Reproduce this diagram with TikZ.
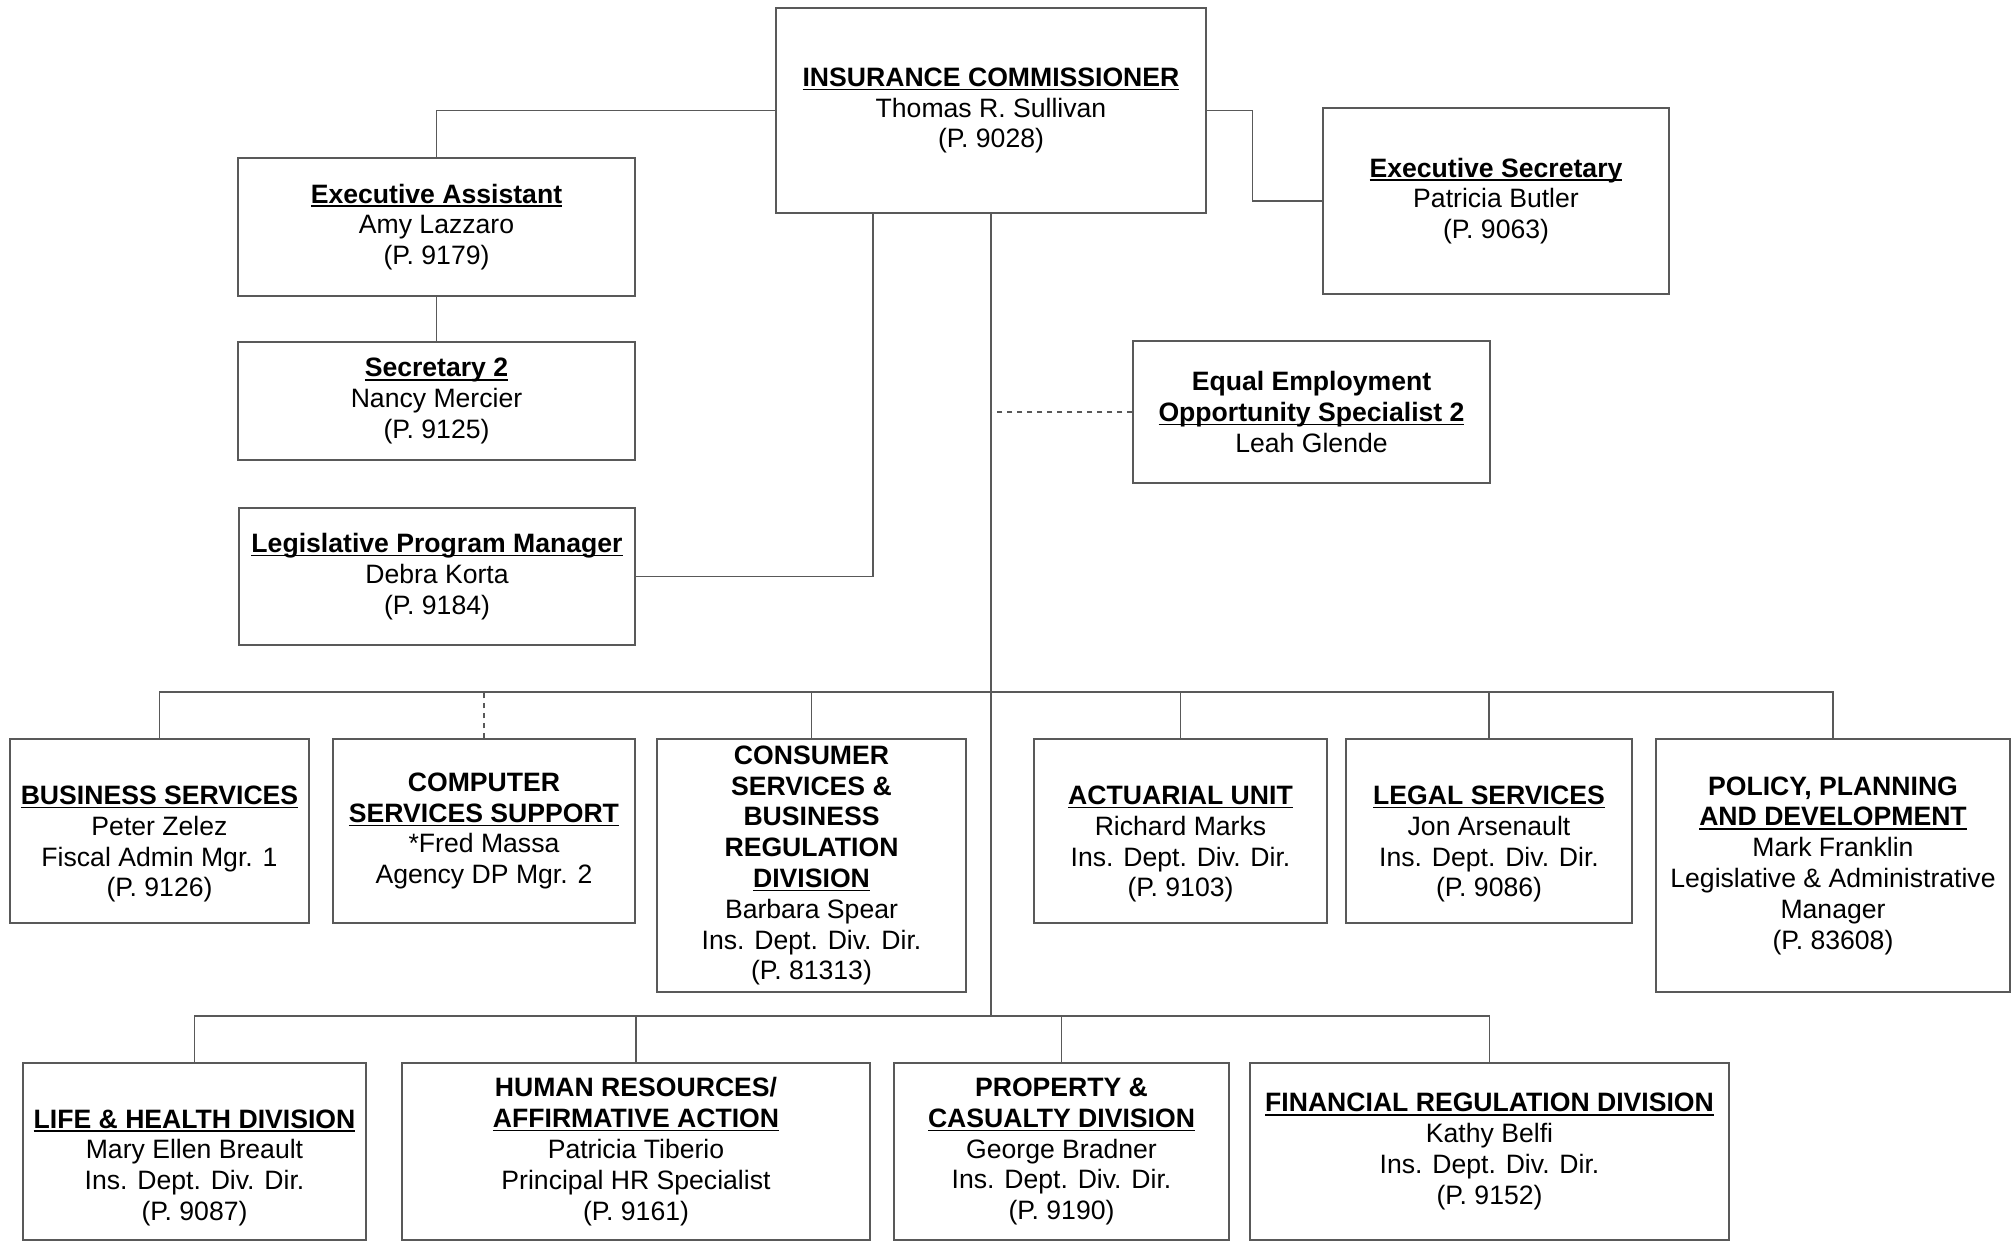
\documentclass[tikz,border=0pt]{standalone}
\usepackage{fontspec}
\setmainfont{Liberation Sans}
\usepackage{tikz}
\usetikzlibrary{calc}
\tikzset{
	% Two styles for the chart: boxes and connecting lines
	org box/.style={rectangle,draw=black!65,line width=0.6pt,inner sep=0pt,align=center},
	org line/.style={draw=black!65,line width=0.6pt}
}

\begin{document}
\begin{tikzpicture}[x=0.5pt,y=-0.5pt,font=\fontsize{13.3}{15.4}\selectfont]
			% macro for the underlined head of a box
			\newcommand{\boxhead}[1]{\textbf{\setbox0\hbox{#1}\rlap{\rule[-1.9pt]{\wd0}{0.7pt}}\box0}}
			% macro for a drop from a bus down to a box
			\newcommand{\dropline}[3][]{\draw[org line,#1](#2.north)--(#2.north|-#3);}
			\tikzstyle{dotted link}=[org line,dash pattern=on 2.5pt off 2.5pt]
			\useasboundingbox (0,0) rectangle (2016,1243);
			\clip (0,0) rectangle (2016,1243);

				% commissioner and staff
				\node(comm)[org box,minimum width=215pt,minimum height=102.5pt] at (991,110.5)
					{\boxhead{INSURANCE COMMISSIONER}\\Thomas R. Sullivan\\(P. 9028)};
				\node(ea)[org box,minimum width=198.5pt,minimum height=69pt] at (436.5,227)
					{\boxhead{Executive Assistant}\\Amy Lazzaro\\(P. 9179)};
				\node(sec)[org box,minimum width=198.5pt,minimum height=59pt] at (436.5,401)
					{\boxhead{Secretary 2}\\Nancy Mercier\\(P. 9125)};
				\node(leg)[org box,minimum width=198pt,minimum height=68.5pt] at (437,576.5)
					{\boxhead{Legislative Program Manager}\\Debra Korta\\(P. 9184)};
				\node(es)[org box,minimum width=173pt,minimum height=93pt] at (1496,201)
					{\boxhead{Executive Secretary}\\Patricia Butler\\(P. 9063)};
				\node(eeo)[org box,minimum width=178.5pt,minimum height=71pt] at (1311.5,412)
					{\textbf{Equal Employment}\\\boxhead{Opportunity Specialist 2}\\Leah Glende};

				% units
				\node(bs)[org box,minimum width=149.5pt,minimum height=92pt] at (159.5,831)
					{{}\\[7.1pt]\boxhead{BUSINESS SERVICES}\\Peter Zelez\\Fiscal Admin Mgr. 1\\(P. 9126)};
				\node(css)[org box,minimum width=151pt,minimum height=92pt] at (484,831)
					{\textbf{COMPUTER}\\\boxhead{SERVICES SUPPORT}\\{*}Fred Massa\\Agency DP Mgr. 2};
				\node(cons)[org box,minimum width=154.5pt,minimum height=126.5pt] at (811.5,865.5)
					{\textbf{CONSUMER}\\\textbf{SERVICES \&}\\\textbf{BUSINESS}\\\textbf{REGULATION}\\\boxhead{DIVISION}\\Barbara Spear\\Ins. Dept. Div. Dir.\\(P. 81313)};
				\node(act)[org box,minimum width=146.5pt,minimum height=92pt] at (1180.5,831)
					{{}\\[7.1pt]\boxhead{ACTUARIAL UNIT}\\Richard Marks\\Ins. Dept. Div. Dir.\\(P. 9103)};
				\node(legal)[org box,minimum width=143pt,minimum height=92pt] at (1489,831)
					{{}\\[7.1pt]\boxhead{LEGAL SERVICES}\\Jon Arsenault\\Ins. Dept. Div. Dir.\\(P. 9086)};
				\node(pol)[org box,minimum width=177pt,minimum height=126.5pt] at (1833,865.5)
					{\textbf{POLICY, PLANNING}\\\boxhead{AND DEVELOPMENT}\\Mark Franklin\\Legislative \& Administrative\\Manager\\(P. 83608)};

				% divisions
				\node(lh)[org box,minimum width=171.5pt,minimum height=88.5pt] at (194.5,1151.5)
					{{}\\[10.1pt]\boxhead{LIFE \& HEALTH DIVISION}\\Mary Ellen Breault\\Ins. Dept. Div. Dir.\\(P. 9087)};
				\node(hr)[org box,minimum width=234pt,minimum height=88.5pt] at (636,1151.5)
					{\textbf{HUMAN RESOURCES/}\\\boxhead{AFFIRMATIVE ACTION}\\Patricia Tiberio\\Principal HR Specialist\\(P. 9161)};
				\node(pc)[org box,minimum width=167.5pt,minimum height=88.5pt] at (1061.5,1151.5)
					{\textbf{PROPERTY \&}\\\boxhead{CASUALTY DIVISION}\\George Bradner\\Ins. Dept. Div. Dir.\\(P. 9190)};
				\node(fin)[org box,minimum width=239.5pt,minimum height=88.5pt] at (1489.5,1151.5)
					{\boxhead{FINANCIAL REGULATION DIVISION}\\Kathy Belfi\\Ins. Dept. Div. Dir.\\(P. 9152)};

				% staff lines
				\draw[org line] (comm.west) -| (ea.north);
				\draw[org line] (ea.south) -- (sec.north);
				\draw[org line] ([xshift=-59pt]comm.south) |- (leg.east);
				\draw[org line] (comm.east) -- ++(23pt,0) |- (es.west);
				\draw[dotted link] (eeo.west) -- (eeo.west -| comm.south);

				% trunk and buses
				\coordinate (midbus) at (991,692);
				\coordinate (lowbus) at (991,1016);
				\draw[org line] (comm.south) -- (lowbus);
				\draw[org line] (bs.north) |- (midbus) -| (pol.north);
				\foreach \n in {cons,act,legal}{\dropline{\n}{midbus}}
				\dropline[dash pattern=on 2.5pt off 2.5pt]{css}{midbus}
				\draw[org line] (lh.north) |- (lowbus) -| (fin.north);
				\foreach \n in {hr,pc}{\dropline{\n}{lowbus}}
		\end{tikzpicture}
\end{document}
